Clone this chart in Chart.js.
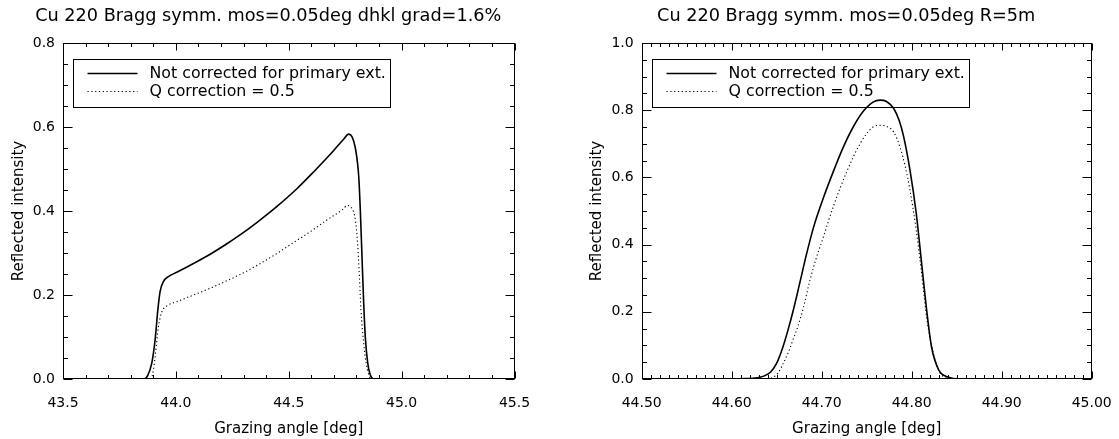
<!DOCTYPE html>
<html><head><meta charset="utf-8">
<script src="https://cdn.jsdelivr.net/npm/chart.js@4.4.1/dist/chart.umd.min.js"></script>
<style>
html,body{margin:0;padding:0;background:#fff;width:1119px;height:439px;overflow:hidden;}
canvas{position:absolute;top:0;}
#c1{left:0;} #c2{left:560px;}
</style></head><body>
<canvas id="c1" width="560" height="439"></canvas>
<canvas id="c2" width="559" height="439"></canvas>
<script>
// ---- text ----
const leftTitle = 'Cu 220 Bragg symm. mos=0.05deg dhkl grad=1.6%';
const rightTitle = 'Cu 220 Bragg symm. mos=0.05deg R=5m';
const xAxisLabel = 'Grazing angle [deg]';
const yAxisLabel = 'Reflected intensity';
const seriesNames = ['Not corrected for primary ext.', 'Q correction = 0.5'];

// ---- tick labels ----
const leftXTicks = [43.5, 44.0, 44.5, 45.0, 45.5];
const leftYTicks = [0.0, 0.2, 0.4, 0.6, 0.8];
const rightXTicks = [44.5, 44.6, 44.7, 44.8, 44.9, 45.0];
const rightYTicks = [0.0, 0.2, 0.4, 0.6, 0.8, 1.0];

// ---- left panel: dhkl gradient ----
const leftAngleUncorr = [43.50,43.86,43.875,43.893,43.908,43.920,43.930,43.945,43.967,44.004,44.078,44.152,44.226,44.300,44.374,44.448,44.536,44.610,44.684,44.743,44.765,44.780,44.795,44.810,44.817,44.825,44.832,44.839,44.850,44.861,44.876,45.50];
const leftUncorr      = [0,0,0.008,0.037,0.093,0.164,0.208,0.232,0.244,0.254,0.275,0.297,0.322,0.349,0.379,0.411,0.453,0.493,0.535,0.571,0.583,0.577,0.550,0.482,0.402,0.283,0.180,0.101,0.037,0.010,0,0];
const leftAngleQ = [43.50,43.89,43.900,43.908,43.923,43.938,43.960,44.004,44.078,44.152,44.226,44.300,44.374,44.448,44.522,44.596,44.670,44.740,44.758,44.780,44.795,44.805,44.813,44.820,44.832,44.843,44.858,44.866,45.50];
const leftQ      = [0,0,0.020,0.053,0.125,0.160,0.174,0.184,0.200,0.216,0.234,0.253,0.275,0.299,0.325,0.351,0.379,0.404,0.413,0.406,0.379,0.323,0.244,0.164,0.085,0.037,0.005,0,0];

// ---- right panel: R = 5 m ----
const rightAngleUncorr = [44.50,44.600,44.615,44.631,44.643,44.650,44.657,44.663,44.668,44.676,44.683,44.691,44.702,44.713,44.724,44.735,44.746,44.757,44.765,44.772,44.780,44.786,44.791,44.798,44.805,44.811,44.817,44.822,44.830,44.840,44.855,45.00];
const rightUncorr      = [0,0,0.001,0.005,0.020,0.047,0.096,0.150,0.200,0.290,0.370,0.452,0.540,0.618,0.690,0.750,0.796,0.824,0.830,0.826,0.805,0.770,0.722,0.623,0.494,0.345,0.196,0.096,0.027,0.006,0,0];
const rightAngleQ = [44.50,44.635,44.646,44.652,44.657,44.663,44.668,44.674,44.680,44.687,44.694,44.702,44.713,44.728,44.743,44.757,44.765,44.772,44.780,44.787,44.793,44.798,44.805,44.811,44.817,44.824,44.831,44.840,44.852,45.00];
const rightQ      = [0,0,0.005,0.020,0.045,0.080,0.116,0.160,0.216,0.295,0.360,0.424,0.514,0.618,0.702,0.750,0.755,0.752,0.735,0.690,0.630,0.563,0.444,0.315,0.176,0.077,0.020,0.004,0,0];

const FONT = '"DejaVu Sans", sans-serif';
Chart.defaults.color = '#000';

function toPts(xs, ys) { return xs.map((x, i) => ({x: x, y: ys[i]})); }

const framePlugin = {
  id: 'frame',
  afterDraw(chart, args, o) {
    const {ctx, chartArea: a} = chart;
    ctx.save();
    ctx.fillStyle = '#000';
    ctx.font = o.titleSize + 'px ' + FONT;
    ctx.textAlign = 'center';
    ctx.textBaseline = 'middle';
    ctx.fillText(o.title, (a.left + a.right) / 2 + o.titleDX, o.titleY);
    ctx.restore();
  },
  afterDatasetsDraw(chart, args, o) {
    const {ctx, chartArea: a, scales} = chart;
    const x = scales.x, y = scales.y;
    ctx.save();
    ctx.strokeStyle = '#000';
    ctx.lineWidth = 1;
    const L = Math.round(a.left) + 0.5, R = Math.round(a.right) - 0.5;
    const T = Math.round(a.top) + 0.5, B = Math.round(a.bottom) - 0.5;
    ctx.strokeRect(L, T, R - L, B - T);
    ctx.beginPath();
    const xt = o.xTicks, yt = o.yTicks;
    for (let i = 0; i < xt.length; i++) {
      const px = Math.round(x.getPixelForValue(xt[i])) + 0.5;
      ctx.moveTo(px, B); ctx.lineTo(px, B - o.xMajor);
      ctx.moveTo(px, T); ctx.lineTo(px, T + o.xMajor);
      if (i < xt.length - 1) {
        const st = (xt[i + 1] - xt[i]) / o.xMinorN;
        for (let j = 1; j < o.xMinorN; j++) {
          const q = Math.round(x.getPixelForValue(xt[i] + j * st)) + 0.5;
          ctx.moveTo(q, B); ctx.lineTo(q, B - o.xMinor);
          ctx.moveTo(q, T); ctx.lineTo(q, T + o.xMinor);
        }
      }
    }
    for (let i = 0; i < yt.length; i++) {
      const py = Math.round(y.getPixelForValue(yt[i])) + 0.5;
      ctx.moveTo(L, py); ctx.lineTo(L + o.yMajor, py);
      ctx.moveTo(R, py); ctx.lineTo(R - o.yMajor, py);
      if (i < yt.length - 1) {
        const st = (yt[i + 1] - yt[i]) / o.yMinorN;
        for (let j = 1; j < o.yMinorN; j++) {
          const q = Math.round(y.getPixelForValue(yt[i] + j * st)) + 0.5;
          ctx.moveTo(L, q); ctx.lineTo(L + o.yMinor, q);
          ctx.moveTo(R, q); ctx.lineTo(R - o.yMinor, q);
        }
      }
    }
    ctx.stroke();

    // legend box
    const ds = chart.data.datasets;
    ctx.font = o.legendFont + 'px ' + FONT;
    let tw = 0;
    ds.forEach(d => { tw = Math.max(tw, ctx.measureText(d.label).width); });
    const bx = Math.round(a.left + o.legDX) + 0.5, by = Math.round(a.top + o.legDY) + 0.5;
    const bw = Math.round(o.textDX + tw + 5), bh = o.legH;
    ctx.strokeRect(bx, by, bw, bh);
    ctx.textBaseline = 'middle';
    ctx.textAlign = 'left';
    ctx.fillStyle = '#000';
    ds.forEach((d, i) => {
      const ry = by + o.rowY[i];
      ctx.save();
      ctx.lineWidth = d.borderWidth;
      ctx.setLineDash(d.borderDash || []);
      ctx.beginPath();
      ctx.moveTo(bx + o.lineX0, Math.round(ry) + 0.5);
      ctx.lineTo(bx + o.lineX1, Math.round(ry) + 0.5);
      ctx.stroke();
      ctx.restore();
      ctx.fillText(d.label, bx + o.textDX, ry + 1);
    });
    ctx.restore();
  }
};

function makeChart(id, c) {
  const tickFont = {family: FONT, size: 14};
  const titleFont = {family: FONT, size: 15};
  return new Chart(document.getElementById(id), {
    type: 'line',
    data: {datasets: [
      {label: seriesNames[0], data: toPts(c.ax, c.ay), borderColor: '#000', borderWidth: 1.6,
       pointRadius: 0, cubicInterpolationMode: 'monotone', fill: false},
      {label: seriesNames[1], data: toPts(c.bx, c.by), borderColor: '#000', borderWidth: 1.1,
       borderDash: [1.2, 2.6], pointRadius: 0, cubicInterpolationMode: 'monotone', fill: false}
    ]},
    options: {
      responsive: false, animation: false, devicePixelRatio: 1,
      layout: {padding: {left: 0, right: c.padRight, top: 43, bottom: 0}},
      plugins: {
        legend: {display: false}, tooltip: {enabled: false}, title: {display: false},
        frame: {title: c.title, titleSize: 17.7, titleDX: -20.5, titleY: 16,
                xTicks: c.xTicks, yTicks: c.yTicks, xMinorN: c.xMinorN, yMinorN: 4,
                xMajor: 7, xMinor: 3.5, yMajor: 9, yMinor: 4.5,
                legendFont: 15.8, legDX: 10, legDY: 16, legH: 48, rowY: [13, 31],
                lineX0: 14, lineX1: 64, textDX: 76}
      },
      scales: {
        x: {type: 'linear', min: c.xTicks[0], max: c.xTicks[c.xTicks.length - 1],
            afterFit(s) { s.height = 60; s.paddingLeft = 0; s.paddingRight = 0; },
            afterBuildTicks(s) { s.ticks = c.xTicks.map(v => ({value: v})); },
            grid: {display: false, drawTicks: false}, border: {display: false},
            ticks: {color: '#000', font: tickFont, padding: 15.5, maxRotation: 0, autoSkip: false,
                    callback: v => Number(v).toFixed(c.xDec)},
            title: {display: true, text: xAxisLabel, color: '#000', font: titleFont, padding: {top: 0, bottom: 1}}},
        y: {type: 'linear', min: c.yTicks[0], max: c.yTicks[c.yTicks.length - 1],
            afterFit(s) { s.width = c.yWidth; s.paddingTop = 0; s.paddingBottom = 0; },
            afterBuildTicks(s) { s.ticks = c.yTicks.map(v => ({value: v})); },
            grid: {display: false, drawTicks: false}, border: {display: false},
            ticks: {color: '#000', font: tickFont, padding: 8, autoSkip: false,
                    callback: v => Number(v).toFixed(1)},
            title: {display: true, text: yAxisLabel, color: '#000', font: titleFont, padding: {top: c.yTitlePad, bottom: 0}}}
      }
    },
    plugins: [framePlugin]
  });
}

makeChart('c1', {title: leftTitle, ax: leftAngleUncorr, ay: leftUncorr, bx: leftAngleQ, by: leftQ,
  xTicks: leftXTicks, yTicks: leftYTicks, xMinorN: 5, xDec: 1, yWidth: 63, padRight: 45.5, yTitlePad: 10});
makeChart('c2', {title: rightTitle, ax: rightAngleUncorr, ay: rightUncorr, bx: rightAngleQ, by: rightQ,
  xTicks: rightXTicks, yTicks: rightYTicks, xMinorN: 10, xDec: 2, yWidth: 81.7, padRight: 27.3, yTitlePad: 28.5});
</script>
</body></html>
